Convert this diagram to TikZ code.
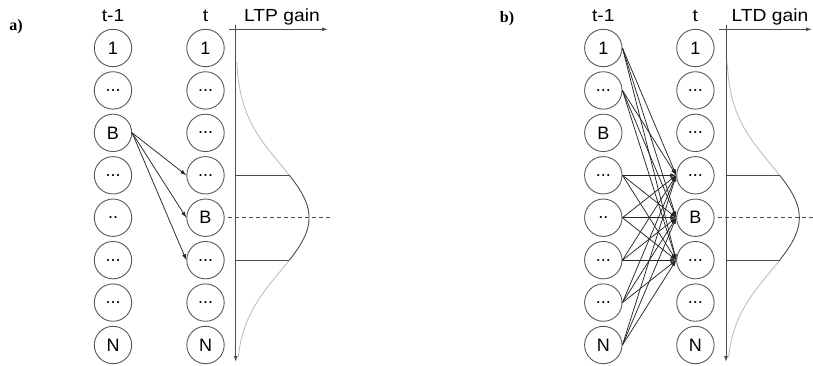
\documentclass[tikz,border=0pt]{standalone}
\usepackage{fontspec}
\setmainfont{Liberation Serif}
\newfontfamily\arialfam{Liberation Sans}
\usetikzlibrary{arrows.meta}
\newcommand\threedots{...}
\newcommand\twodots{..}
\begin{document}
\begin{tikzpicture}[x=1pt,y=-1pt,
  neuron/.style={circle,draw=black!65,line width=0.9pt,minimum size=37.4pt,inner sep=0pt,font=\arialfam\fontsize{18}{18}\selectfont},
  hdr/.style={font=\arialfam\fontsize{17.5}{17.5}\selectfont,inner sep=0pt},
  lbl/.style={font=\bfseries\fontsize{16}{16}\selectfont},
  syn/.style={draw=black!85,line width=0.75pt,-{Latex[length=6pt,width=4pt]}},
  ax/.style={draw=black!70,line width=1pt,-{Latex[length=6pt,width=4pt]}},
  tail/.style={draw=black!25,line width=0.9pt},
  core/.style={draw=black!70,line width=0.9pt},
]
\useasboundingbox (0,0) rectangle (813,366);

% panel labels
\node[lbl] (la) at (16,27) {a)};
\node[lbl] (lb) at (507,19) {b)};

% columns
\foreach \p/\xl/\xr in {a/113/205.5, b/603.3/695.4}{
  \foreach \i/\t in {1/1,2/\threedots,3/B,4/\threedots,5/\twodots,6/\threedots,7/\threedots,8/N}{
    \node[neuron] (\p0-\i) at (\xl,{48+42.43*(\i-1)}) {\t};
  }
  \foreach \i/\t in {1/1,2/\threedots,3/\threedots,4/\threedots,5/B,6/\threedots,7/\threedots,8/N}{
    \node[neuron] (\p1-\i) at (\xr,{48+42.43*(\i-1)}) {\t};
  }
  \node[hdr] (\p-h0) at (\xl,16) {\scalebox{1.1}[1]{t-1}};
  \node[hdr] (\p-h1) at (\xr,16) {\scalebox{1.1}[1]{t}};
}

% connections
\foreach \t in {4,5,6}{ \draw[syn] (a0-3.east) -- (a1-\t.west); }
\foreach \s in {1,2,4,5,6,7,8}{
  \foreach \t in {4,5,6}{ \draw[syn] (b0-\s.east) -- (b1-\t.west); }
}

% gain axes and curves
\foreach \p/\dx/\xe/\lab/\lx in {a/0/328/LTP gain/282, b/490.3/812/LTD gain/770}{
  \begin{scope}[xshift=\dx pt]
    \coordinate (\p-top) at (235.7,25);
    \coordinate (\p-bot) at (235.7,362);
    \coordinate (\p-hs) at (229,29.3);
    \coordinate (\p-dl) at (228,217.7);
  \end{scope}
  \coordinate (\p-he) at (\xe,29.3);
  \coordinate (\p-dr) at ({\xe+5},217.7);
  \draw[ax] (\p-top) -- (\p-bot);
  \draw[ax] (\p-hs) -- (\p-he);
  \node[hdr] (\p-gain) at (\lx,17) {\scalebox{1.1}[1]{\lab}};
  \begin{scope}[xshift=\dx pt]
    \draw[tail] plot[domain=62:175.3,samples=60] ({235.7+73.3*exp(-0.5*((\x-217.7)/53.7)^2)},\x);
    \draw[tail] plot[domain=260.1:357,samples=60] ({235.7+73.3*exp(-0.5*((\x-217.7)/53.7)^2)},\x);
    \draw[core] plot[domain=175.3:260.1,samples=60] ({235.7+73.3*exp(-0.5*((\x-217.7)/53.7)^2)},\x);
    \draw[core] (235.7,175.3) -- ({235.7+73.3*exp(-0.5*((175.3-217.7)/53.7)^2)},175.3);
    \draw[core] (235.7,260.1) -- ({235.7+73.3*exp(-0.5*((260.1-217.7)/53.7)^2)},260.1);
  \end{scope}
  \draw[core,dash pattern=on 4pt off 3pt] (\p-dl) -- (\p-dr);
}
\end{tikzpicture}
\end{document}
